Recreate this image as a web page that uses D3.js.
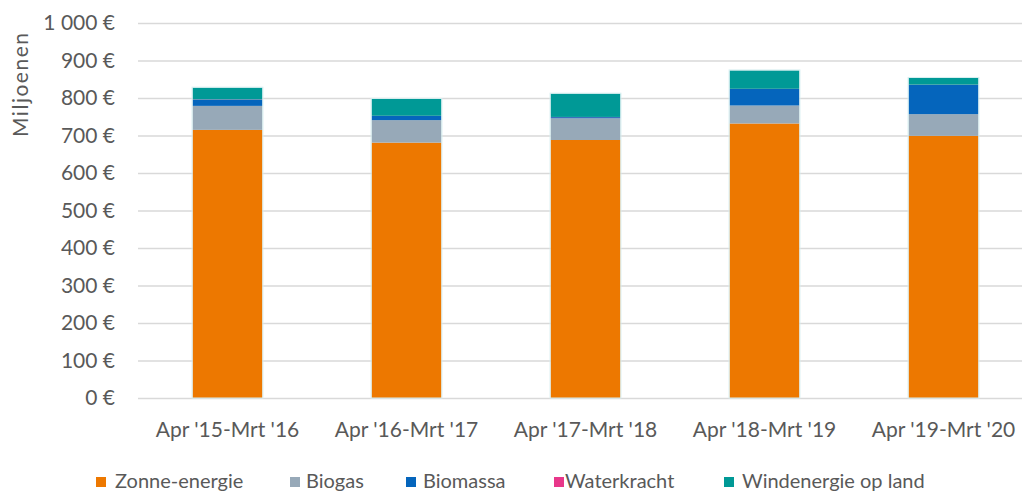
<!DOCTYPE html>
<html>
<head>
<meta charset="utf-8">
<script src="https://cdn.jsdelivr.net/npm/d3@7"></script>
<style>
  body { margin: 0; background: #fff; }
  text { font-family: Lato, "Open Sans", sans-serif; fill: #595959; }
</style>
</head>
<body>
<div id="chart"></div>
<script>
// periods on the x axis
const periods = ["Apr '15-Mrt '16", "Apr '16-Mrt '17", "Apr '17-Mrt '18", "Apr '18-Mrt '19", "Apr '19-Mrt '20"];

// values in miljoenen euro per series
const zonne   = [715, 681, 688, 732, 699];
const biogas  = [64, 60, 58, 48, 58];
const biomassa = [17, 11, 3, 44, 78];
const water   = [0.5, 0.5, 0.5, 0.5, 0.5];
const wind    = [31, 45, 62, 49, 18];

const seriesNames = ["Zonne-energie", "Biogas", "Biomassa", "Waterkracht", "Windenergie op land"];
const colors = ["#ED7800", "#97A9B8", "#0565BC", "#E8378A", "#009996"];
const yTicks = [0, 100, 200, 300, 400, 500, 600, 700, 800, 900, 1000];

const W = 1022, H = 493;
const svg = d3.select("#chart").append("svg")
  .attr("width", W).attr("height", H);

const data = periods.map((p, i) => ({
  period: p,
  "Zonne-energie": zonne[i],
  "Biogas": biogas[i],
  "Biomassa": biomassa[i],
  "Waterkracht": water[i],
  "Windenergie op land": wind[i]
}));

const series = d3.stack().keys(seriesNames)(data);

const x = d3.scaleBand()
  .domain(periods)
  .range([138, 1033])
  .paddingInner(0.61)
  .paddingOuter(0.305);

const y = d3.scaleLinear()
  .domain([0, 1000])
  .range([398, 23]);

const color = d3.scaleOrdinal().domain(seriesNames).range(colors);

// gridlines
svg.append("g")
  .selectAll("line")
  .data(yTicks)
  .enter().append("line")
  .attr("x1", 138)
  .attr("x2", W)
  .attr("y1", d => y(d) + 0.5)
  .attr("y2", d => y(d) + 0.5)
  .attr("stroke", "#d9d9d9")
  .attr("stroke-width", 1.5);

// y tick labels
const fmt = d => (d >= 1000 ? d3.format(",")(d).replace(",", " ") : d) + " €";
svg.append("g")
  .selectAll("text")
  .data(yTicks)
  .enter().append("text")
  .attr("x", 115)
  .attr("y", d => y(d))
  .attr("dy", "0.35em")
  .attr("text-anchor", "end")
  .style("font-size", "21px")
  .text(fmt);

// bars
svg.append("g")
  .selectAll("g")
  .data(series)
  .enter().append("g")
  .attr("fill", d => color(d.key))
  .selectAll("rect")
  .data(d => d)
  .enter().append("rect")
  .attr("x", d => x(d.data.period))
  .attr("width", x.bandwidth())
  .attr("y", d => y(d[1]))
  .attr("height", d => y(d[0]) - y(d[1]));

// light outline round each bar
svg.append("g")
  .selectAll("rect")
  .data(data)
  .enter().append("rect")
  .attr("x", d => x(d.period) - 0.5)
  .attr("width", x.bandwidth() + 1)
  .attr("y", d => y(d3.sum(seriesNames, k => d[k])) - 0.5)
  .attr("height", d => y(0) - y(d3.sum(seriesNames, k => d[k])) + 0.5)
  .attr("fill", "none")
  .attr("stroke", "#d6eef0")
  .attr("stroke-width", 1);

// x labels
svg.append("g")
  .selectAll("text")
  .data(periods)
  .enter().append("text")
  .attr("x", d => x(d) + x.bandwidth() / 2)
  .attr("y", 437)
  .attr("text-anchor", "middle")
  .style("font-size", "21px")
  .text(d => d);

// y axis title
svg.append("text")
  .attr("transform", "translate(28,85) rotate(-90)")
  .attr("text-anchor", "middle")
  .style("font-size", "21px")
  .attr("textLength", 104)
  .text("Miljoenen");

// legend
const legX = [96, 290, 406, 554, 724];
const legTextX = [115, 306, 423, 565, 742];
const leg = svg.append("g")
  .selectAll("g")
  .data(seriesNames)
  .enter().append("g");

leg.append("rect")
  .attr("x", (d, i) => legX[i])
  .attr("y", 477)
  .attr("width", 10)
  .attr("height", 10)
  .attr("fill", d => color(d));

leg.append("text")
  .attr("x", (d, i) => legTextX[i])
  .attr("y", 488)
  .style("font-size", "20px")
  .text(d => d);
</script>
</body>
</html>
